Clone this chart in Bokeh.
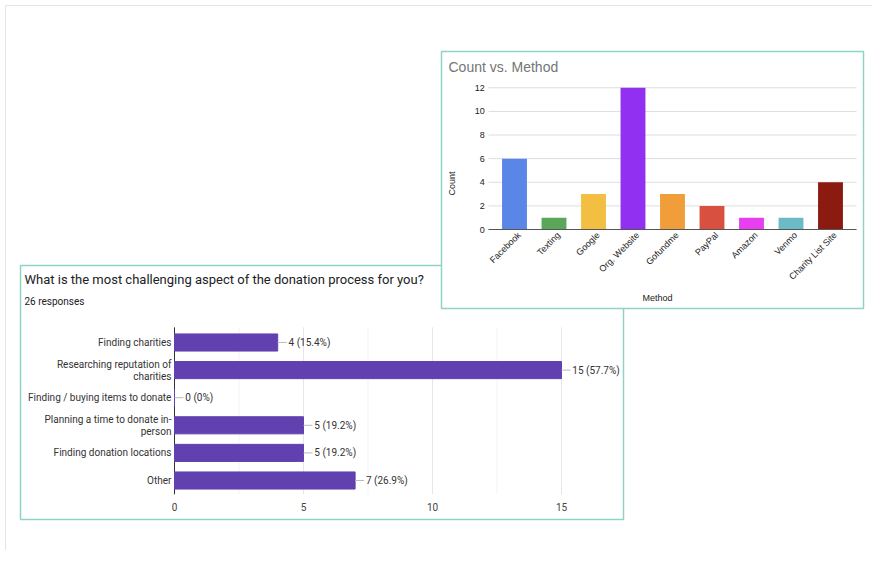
from math import pi

from bokeh.plotting import figure
from bokeh.models import Range1d
from bokeh.core.properties import value
from bokeh.embed import file_html
from bokeh.resources import INLINE

# top chart: Count vs. Method
methods = ["Facebook", "Texting", "Google", "Org. Website", "Gofundme",
           "PayPal", "Amazon", "Venmo", "Charity List Site"]
counts = [6, 1, 3, 12, 3, 2, 1, 1, 4]
method_colors = ["#5a86e8", "#5aa75a", "#f2bf42", "#9130f0", "#f09d3a",
                 "#d85140", "#e63ef0", "#6bbbc6", "#8b1a10"]
count_ticks = [0, 2, 4, 6, 8, 10, 12]

# bottom chart: survey question
aspects = ["Finding charities", "Researching reputation of\ncharities",
           "Finding / buying items to donate", "Planning a time to donate in-\nperson",
           "Finding donation locations", "Other"]
responses = [4, 15, 0, 5, 5, 7]
response_labels = ["4 (15.4%)", "15 (57.7%)", "0 (0%)", "5 (19.2%)", "5 (19.2%)", "7 (26.9%)"]
resp_ticks = [0, 5, 10, 15]
resp_minor = [2.5, 7.5, 12.5]

ROBOTO = value("Roboto")
ARIAL = value("Liberation Sans")

W, H = 872, 550
p = figure(width=W, height=H, output_backend="svg", toolbar_location=None,
           x_range=Range1d(0, W), y_range=Range1d(H, 0),
           min_border=0, outline_line_color=None)
p.axis.visible = False
p.grid.visible = False

# screen-pixel mapping for each sub chart
def add_ranges(name, x0px, xstep, y0px, ystep):
    p.extra_x_ranges[name] = Range1d((0 - x0px) / xstep, (W - x0px) / xstep)
    p.extra_y_ranges[name] = Range1d((y0px - H) / ystep, (y0px - 0) / ystep)

add_ranges("top", 514, 39.5, 229, 11.81)
add_ranges("bot", 174, 25.8, 342, -27.6)

# card + shadow
for i, a in enumerate([0.05, 0.05, 0.06, 0.08]):
    d = 4 - i
    p.quad(left=5 + d / 2, right=882 + d, top=6, bottom=553 + d, fill_color="#000000",
           fill_alpha=a, line_color=None)
p.quad(left=5, right=882, top=5, bottom=553, fill_color="white", line_color="#e4e4e4")

# ---- bottom chart ----
p.quad(left=20, right=623, top=265, bottom=519, fill_color="white", line_color="#8fd3c7",
       line_width=1.5)
p.text(x=[24], y=[279], text=["What is the most challenging aspect of the donation process for you?"],
       text_font=ROBOTO, text_font_size="13px", text_color="#202124", text_baseline="middle")
p.text(x=[24], y=[301], text=["26 responses"], text_font=ROBOTO, text_font_size="10px",
       text_color="#202124", text_baseline="middle")

b = dict(x_range_name="bot", y_range_name="bot")
rows = list(range(len(aspects)))
for t in resp_minor:
    p.segment(x0=t, x1=t, y0=-0.55, y1=5.5, line_color="#f3f3f3", line_width=1, **b)
for t in resp_ticks[1:]:
    p.segment(x0=t, x1=t, y0=-0.55, y1=5.5, line_color="#e6e6e6", line_width=1, **b)
p.segment(x0=0, x1=0, y0=-0.55, y1=5.5, line_color="#333333", line_width=1, **b)
p.hbar(y=rows, right=responses, left=0, height=0.62, fill_color="#6140b0",
       line_color="#6140b0", **b)
p.segment(x0=responses, x1=[v + 0.35 for v in responses], y0=rows, y1=rows,
          line_color="#bbbbbb", line_width=1, **b)
p.text(x=[v + 0.42 for v in responses], y=rows, text=response_labels, text_font=ROBOTO,
       text_font_size="10px", text_color="#333333", text_baseline="middle", **b)
p.text(x=-0.12, y=rows, text=aspects, text_font=ROBOTO, text_font_size="10px",
       text_color="#333333", text_align="right", text_baseline="middle",
       text_line_height=1.1, **b)
p.text(x=resp_ticks, y=[5.95] * 4, text=[str(t) for t in resp_ticks], text_font=ROBOTO,
       text_font_size="10px", text_color="#444444", text_align="center",
       text_baseline="middle", **b)

# ---- top chart ----
p.quad(left=441, right=863, top=51, bottom=308, fill_color="white", line_color="#8fd3c7",
       line_width=1.5)
p.text(x=[448], y=[66], text=["Count vs. Method"], text_font=ARIAL,
       text_font_size="14px", text_color="#757575", text_baseline="middle")
t = dict(x_range_name="top", y_range_name="top")
idx = list(range(len(methods)))
p.segment(x0=-0.66, x1=8.66, y0=count_ticks[1:], y1=count_ticks[1:], line_color="#dddddd",
          line_width=1, **t)
p.vbar(x=idx, top=counts, width=0.63, fill_color=method_colors, line_color=None, **t)
p.segment(x0=-0.66, x1=8.66, y0=0, y1=0, line_color="#555555", line_width=1.2, **t)
p.text(x=-0.75, y=count_ticks, text=[str(c) for c in count_ticks], text_font=ARIAL,
       text_font_size="9px", text_color="#222222", text_align="right",
       text_baseline="middle", **t)
p.text(x=[i + 0.12 for i in idx], y=-0.35, text=methods, text_font=ARIAL,
       text_font_size="9px", text_color="#222222", text_align="right",
       text_baseline="middle", angle=pi / 4, **t)
p.text(x=[657], y=[297], text=["Method"], text_font=ARIAL, text_font_size="9px",
       text_color="#222222", text_align="center", text_baseline="middle")
p.text(x=[451], y=[183], text=["Count"], text_font=ARIAL, text_font_size="9px",
       text_color="#222222", text_align="center", text_baseline="middle", angle=pi / 2)

open("out.html", "w").write(file_html(p, INLINE))
